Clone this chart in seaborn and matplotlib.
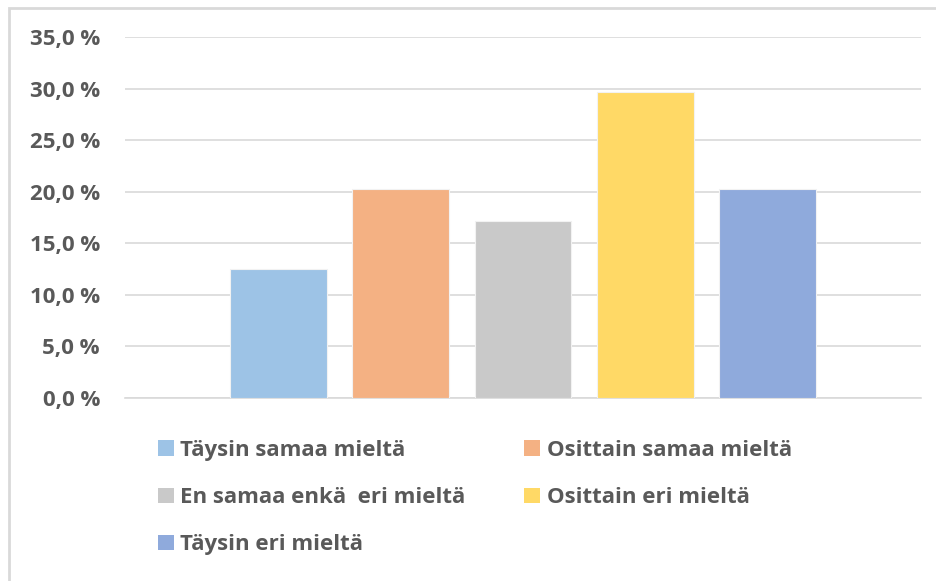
import matplotlib
matplotlib.use("Agg")
import matplotlib.pyplot as plt
from matplotlib.patches import Patch, Rectangle
from matplotlib.ticker import FuncFormatter, MultipleLocator
import pandas as pd
import seaborn as sns

# Survey answers (share of respondents, %)
categories = [
    "Täysin samaa mieltä",
    "Osittain samaa mieltä",
    "En samaa enkä  eri mieltä",
    "Osittain eri mieltä",
    "Täysin eri mieltä",
]
shares = [12.5, 20.3, 17.2, 29.7, 20.3]
colors = ["#9DC3E6", "#F4B183", "#C9C9C9", "#FFD966", "#8FAADC"]

text_color = "#595959"
grid_color = "#D9D9D9"

sns.set_theme(style="white")
plt.rcParams["font.family"] = ["Open Sans", "DejaVu Sans"]

df = pd.DataFrame({"vastaus": categories, "osuus": shares})
palette = dict(zip(categories, colors))

fig = plt.figure(figsize=(9.36, 5.81), dpi=100)
ax = fig.add_axes([125 / 936, 1 - 398 / 581, (921 - 125) / 936, (398 - 37) / 581])

sns.barplot(
    data=df, x="vastaus", y="osuus", hue="vastaus", order=categories,
    hue_order=categories, palette=palette, width=0.79, dodge=False,
    saturation=1, edgecolor="#F2F2F2", linewidth=0.8, legend=False,
    ax=ax, zorder=3,
)

ax.set_xlim(-1.255, 5.255)
ax.set_ylim(0, 35)
ax.yaxis.set_major_locator(MultipleLocator(5))
ax.yaxis.set_major_formatter(FuncFormatter(lambda v, _: f"{v:.1f}".replace(".", ",") + " %"))
ax.grid(axis="y", color=grid_color, linewidth=1.2, zorder=0)
ax.set_axisbelow(True)
for side in ("top", "right", "left"):
    ax.spines[side].set_visible(False)
ax.spines["bottom"].set_color(grid_color)
ax.spines["bottom"].set_linewidth(1.2)
ax.set_xlabel("")
ax.set_ylabel("")
ax.set_xticks([])
ax.tick_params(axis="y", length=0, pad=18, labelsize=16, labelcolor=text_color)
for lbl in ax.get_yticklabels():
    lbl.set_fontweight("bold")

# Legend in row-major order over two columns
handles = [Patch(facecolor=c, edgecolor="none") for c in colors]
order = [0, 2, 4, 1, 3]
leg = fig.legend(
    [handles[i] for i in order], [categories[i] for i in order],
    ncol=2, loc="upper left", bbox_to_anchor=(138 / 936, 1 - 420 / 581),
    frameon=False, handlelength=0.7, handleheight=0.7, handletextpad=0.3,
    columnspacing=2.65, labelspacing=1.18,
    prop={"size": 16, "weight": "bold"},
)
for t in leg.get_texts():
    t.set_color(text_color)

# Outer chart frame
fig.patches.append(Rectangle((9 / 936, -0.05), 1.1, 1 - 8 / 581 + 0.05,
                             transform=fig.transFigure, fill=False,
                             edgecolor=grid_color, linewidth=2))

fig.savefig("out.png", dpi=100)
